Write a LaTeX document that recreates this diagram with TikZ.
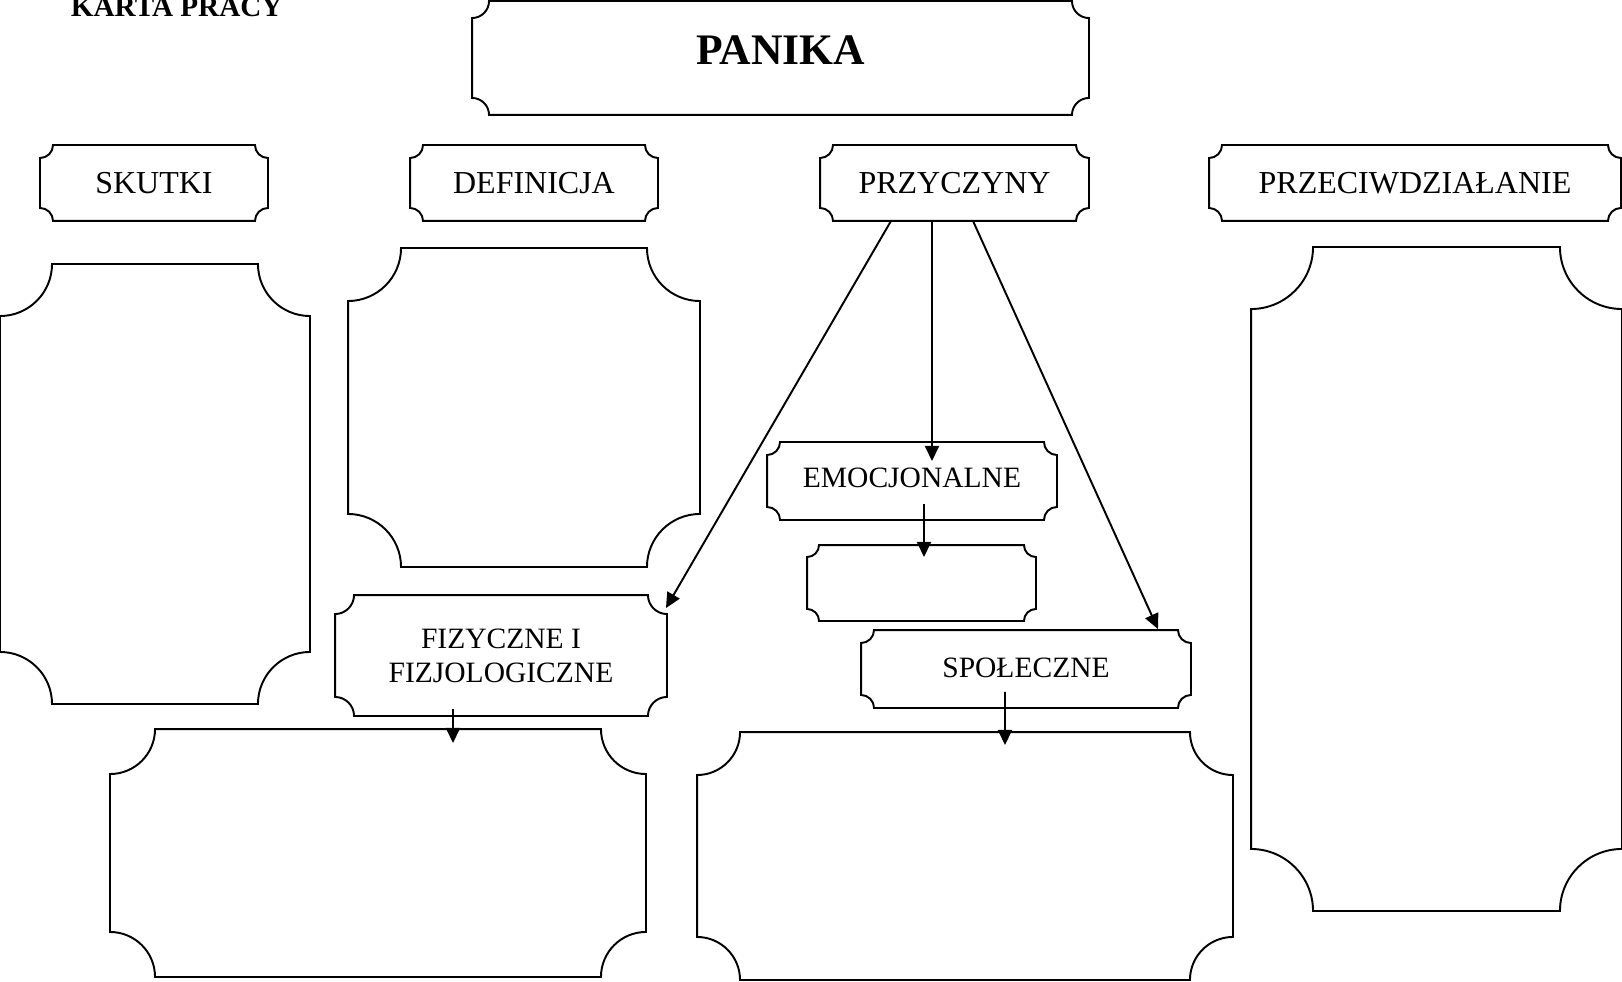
\documentclass[tikz,border=0pt]{standalone}
\usepackage{fontspec}
\setmainfont{Liberation Serif}
\usetikzlibrary{calc,arrows.meta}

\newcommand{\plate}[2]{%
  \draw ($(#1.north west)+(#2,0)$) -- ($(#1.north east)+(-#2,0)$)
    arc[start angle=180,end angle=270,radius=#2]
    -- ($(#1.south east)+(0,#2)$)
    arc[start angle=90,end angle=180,radius=#2]
    -- ($(#1.south west)+(#2,0)$)
    arc[start angle=0,end angle=90,radius=#2]
    -- ($(#1.north west)+(0,-#2)$)
    arc[start angle=270,end angle=360,radius=#2] -- cycle;}

\begin{document}
\begin{tikzpicture}[x=1mm,y=1mm,line width=0.55pt,
  tag/.style={inner sep=0pt,align=center,font=\fontsize{9.1}{9.8}\selectfont},
  subtag/.style={tag,font=\fontsize{8.4}{9.7}\selectfont},
  arr/.style={-{Triangle[length=4.3pt,width=4pt]}}]
  \useasboundingbox (0,0) rectangle (162.2,98.1);

  \node (karta) at (7,96.45) [anchor=base west,inner sep=0pt,font=\bfseries\fontsize{8.3}{10}\selectfont] {KARTA PRACY};
  \node (panika) at (78.05,92.3) [tag,minimum width=61.5mm,minimum height=11.2mm,text depth=4.5pt,font=\bfseries\fontsize{12.4}{14}\selectfont] {PANIKA};

  \node (skutki) at (15.4,79.8) [tag,minimum width=22.6mm,minimum height=7.4mm] {SKUTKI};
  \node (defin) at (53.4,79.8) [tag,minimum width=24.6mm,minimum height=7.4mm] {DEFINICJA};
  \node (przy) at (95.45,79.8) [tag,minimum width=26.7mm,minimum height=7.4mm] {PRZYCZYNY};
  \node (przeciw) at (141.5,79.8) [tag,minimum width=41mm,minimum height=7.4mm] {PRZECIWDZIAŁANIE};

  \node (skutkibox) at (15.5,49.7) [tag,minimum width=30.8mm,minimum height=43.8mm] {};
  \node (definbox) at (52.4,57.35) [tag,minimum width=35mm,minimum height=31.7mm] {};
  \node (przeciwbox) at (143.65,40.2) [tag,minimum width=36.9mm,minimum height=66.2mm] {};

  \node (emo) at (91.2,50) [subtag,minimum width=28.8mm,minimum height=7.6mm,text depth=1.7pt] {EMOCJONALNE};
  \node (emobox) at (92.15,39.8) [tag,minimum width=22.7mm,minimum height=7.4mm] {};
  \node (fiz) at (50.1,32.55) [subtag,minimum width=33mm,minimum height=11.9mm] {FIZYCZNE I\\FIZJOLOGICZNE};
  \node (spo) at (102.6,31.2) [subtag,minimum width=32.8mm,minimum height=7.6mm,text depth=1pt] {SPOŁECZNE};
  \node (fizbox) at (37.8,12.8) [tag,minimum width=53.4mm,minimum height=24.6mm] {};
  \node (spobox) at (96.5,12.5) [tag,minimum width=53.4mm,minimum height=24.6mm] {};

  \foreach \n/\r in {panika/1.7,skutki/1.3,defin/1.3,przy/1.3,przeciw/1.3,
    skutkibox/5.2,definbox/5.3,przeciwbox/6.2,emo/1.3,emobox/1.2,
    fiz/1.9,spo/1.3,fizbox/4.5,spobox/4.3} {\plate{\n}{\r}}

  \draw[arr] ($(przy.south)+(-6.35,0)$) -- ($(fiz.north east)+(-0.1,-1.3)$);
  \draw[arr] ($(przy.south)+(-2.25,0)$) -- ($(emo.north)+(2,-1.9)$);
  \draw[arr] ($(przy.south)+(1.85,0)$) -- ($(spo.north east)+(-3.3,0.1)$);
  \draw[arr] ($(emo.south)+(1.2,1.6)$) -- ($(emobox.north)+(0.25,-1.2)$);
  \draw[arr] ($(fiz.south)+(-4.8,0.7)$) -- ($(fizbox.north)+(7.5,-1.4)$);
  \draw[arr] ($(spo.south)+(-2.1,1.6)$) -- ($(spobox.north)+(4,-1.3)$);
\end{tikzpicture}
\end{document}
